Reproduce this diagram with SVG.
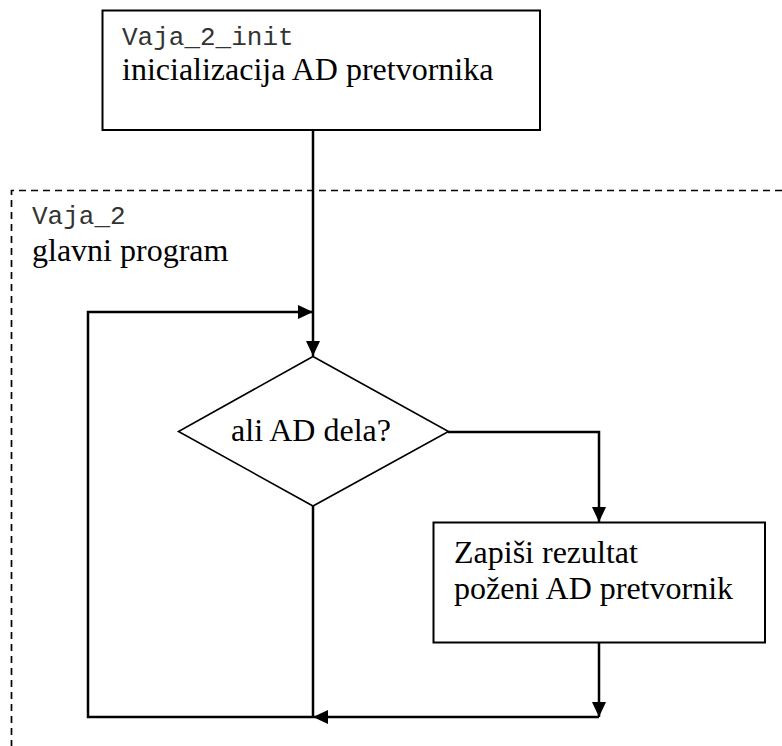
<svg xmlns="http://www.w3.org/2000/svg" width="782" height="746" viewBox="0 0 782 746">
<defs>
<style>
.box{fill:#fff;stroke:#000;stroke-width:2}
.dia{fill:#fff;stroke:#000;stroke-width:1.6}
.con{fill:none;stroke:#000;stroke-width:2.5}
.frame{fill:none;stroke:#000;stroke-width:1.7;stroke-dasharray:7 5}
.serif{font-family:"Liberation Serif","Times New Roman",serif;font-size:32px;fill:#000}
.mono{font-family:"Liberation Mono","Courier New",monospace;font-size:26px;fill:#333}
</style>
<marker id="arr" markerUnits="userSpaceOnUse" markerWidth="16" markerHeight="15" refX="15" refY="7" orient="auto">
<path d="M0,0 L15,7 L0,14 z" fill="#000"/>
</marker>
</defs>
<rect width="782" height="746" fill="#fff"/>
<g id="frame">
<path class="frame" d="M782,190.5 L11.5,190.5 L11.5,746"/>
<text class="mono" x="32" y="224">Vaja_2</text>
<text class="serif" x="32" y="261">glavni program</text>
</g>
<g id="connectors">
<path class="con" d="M313,130 L313,356" marker-end="url(#arr)"/>
<path class="con" d="M448,432 L599,432 L599,522" marker-end="url(#arr)"/>
<path class="con" d="M313,506 L313,717"/>
<path class="con" d="M599,643 L599,717" marker-end="url(#arr)"/>
<path class="con" d="M599,717 L313,717" marker-end="url(#arr)"/>
<path class="con" d="M313,717 L88,717 L88,312 L313,312" marker-end="url(#arr)"/>
</g>
<g id="init">
<rect class="box" x="102.5" y="10.5" width="437.5" height="119.5"/>
<text class="mono" x="122" y="45">Vaja_2_init</text>
<text class="serif" x="122" y="80">inicializacija AD pretvornika</text>
</g>
<g id="decision">
<polygon class="dia" points="313,356.5 448.5,431.5 313,506 178.5,431.5"/>
<text class="serif" x="311" y="441" text-anchor="middle">ali AD dela?</text>
</g>
<g id="write">
<rect class="box" x="433.5" y="522.5" width="331.5" height="120"/>
<text class="serif" x="454" y="563">Zapiši rezultat</text>
<text class="serif" x="454" y="599">poženi AD pretvornik</text>
</g>
</svg>
